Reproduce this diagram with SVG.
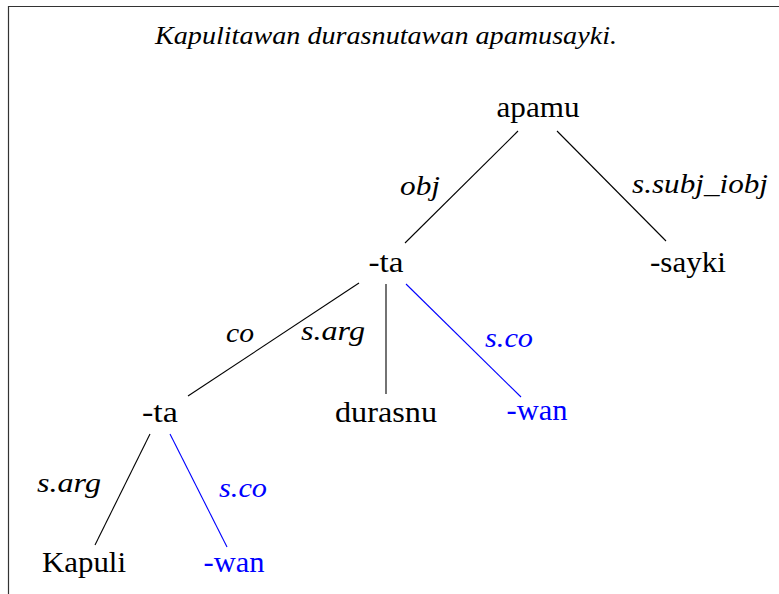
<svg xmlns="http://www.w3.org/2000/svg" width="779" height="594" viewBox="0 0 779 594">
<style>
text{font-family:'Liberation Serif',serif}
.n{font-size:30px;fill:#000;text-anchor:middle}
.l{font-style:italic;font-size:28px;fill:#000;text-anchor:middle}
.t{font-style:italic;font-size:25px;fill:#000;text-anchor:middle}
.b{fill:#0000ff}
.e{stroke:#000;stroke-width:1.1;fill:none}
.eb{stroke:#0000ff;stroke-width:1.1;fill:none}
</style>
<rect width="779" height="594" fill="#fff"/>
<path d="M8.5,600 V6.5 H790" fill="none" stroke="#333" stroke-width="1.2"/>
<text class="t" x="386" y="44" textLength="462" lengthAdjust="spacingAndGlyphs">Kapulitawan durasnutawan apamusayki.</text>
<g id="connectors">
<line class="e" x1="518" y1="131" x2="405" y2="243"/>
<line class="e" x1="557" y1="131" x2="666" y2="241"/>
<line class="e" x1="359" y1="283" x2="188" y2="396"/>
<line class="e" x1="386" y1="284" x2="386" y2="394"/>
<line class="eb" x1="406" y1="284" x2="521" y2="397"/>
<line class="e" x1="150" y1="434" x2="95" y2="545"/>
<line class="eb" x1="170" y1="434" x2="227" y2="547"/>
<text class="l" x="420" y="195" textLength="40" lengthAdjust="spacingAndGlyphs">obj</text>
<text class="l" x="700" y="193" textLength="136" lengthAdjust="spacingAndGlyphs">s.subj_iobj</text>
<text class="l" x="240" y="342" textLength="28" lengthAdjust="spacingAndGlyphs">co</text>
<text class="l" x="333" y="340" textLength="64" lengthAdjust="spacingAndGlyphs">s.arg</text>
<text class="l b" x="509" y="347" textLength="48" lengthAdjust="spacingAndGlyphs">s.co</text>
<text class="l" x="69" y="492" textLength="64" lengthAdjust="spacingAndGlyphs">s.arg</text>
<text class="l b" x="243" y="497" textLength="48" lengthAdjust="spacingAndGlyphs">s.co</text>
</g>
<g id="apamu"><text class="n" x="538" y="117" textLength="83" lengthAdjust="spacingAndGlyphs">apamu</text></g>
<g id="ta1"><text class="n" x="386" y="272" textLength="35" lengthAdjust="spacingAndGlyphs">-ta</text></g>
<g id="sayki"><text class="n" x="688" y="272" textLength="76" lengthAdjust="spacingAndGlyphs">-sayki</text></g>
<g id="ta2"><text class="n" x="160" y="422" textLength="36" lengthAdjust="spacingAndGlyphs">-ta</text></g>
<g id="durasnu"><text class="n" x="386" y="422" textLength="102" lengthAdjust="spacingAndGlyphs">durasnu</text></g>
<g id="wan1"><text class="n b" x="537" y="420" textLength="61" lengthAdjust="spacingAndGlyphs">-wan</text></g>
<g id="kapuli"><text class="n" x="84" y="572" textLength="84" lengthAdjust="spacingAndGlyphs">Kapuli</text></g>
<g id="wan2"><text class="n b" x="234" y="572" textLength="61" lengthAdjust="spacingAndGlyphs">-wan</text></g>
</svg>
